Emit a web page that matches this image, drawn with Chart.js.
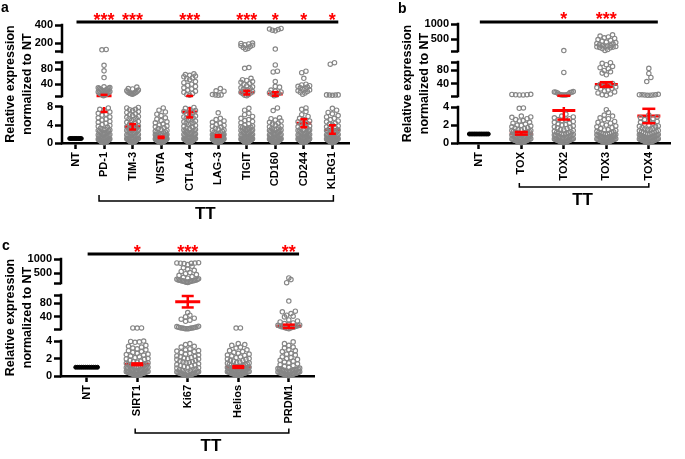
<!DOCTYPE html>
<html>
<head>
<meta charset="utf-8">
<script src="https://cdn.jsdelivr.net/npm/chart.js@4.4.1/dist/chart.umd.min.js"></script>
<style>
html, body { margin: 0; padding: 0; background: #fff; }
body { width: 685px; height: 459px; position: relative; overflow: hidden; }
canvas { position: absolute; }
</style>
</head>
<body>
<canvas id="chartA" width="360" height="232" style="left:0;top:0"></canvas>
<canvas id="chartB" width="288" height="232" style="left:397px;top:0"></canvas>
<canvas id="chartC" width="330" height="223" style="left:0;top:236px"></canvas>
<script>
// ---- panel a ----
const catsA = ['NT', 'PD-1', 'TIM-3', 'VISTA', 'CTLA-4', 'LAG-3', 'TIGIT', 'CD160', 'CD244', 'KLRG1'];
const starsA = ['', '***', '***', '', '***', '', '***', '*', '*', '*'];
const meansA = [null, 9, 3.6, 1.25, 6.9, 1.55, 17, 13.5, 4.4, 3.0];
const semsA = [0, 2.1, 0.6, 0.15, 1.2, 0.2, 5, 5, 0.9, 0.95];
const rangesA = [[0, 8], [8, 100], [100, 400]];
const ticksA = [[0, 4, 8], [40, 80], [200, 400]];

const ntA = [1, 1, 1, 1, 1, 1, 1, 1, 1, 1];
const pd1 = [128, 125, 91, 76, 58, 33, 31, 30, 29, 28, 27, 26, 25, 24, 23, 22, 21, 20, 19, 18, 17, 16, 15, 14, 13, 12, 11, 10, 9,
  7.8, 7.5, 7.3, 6.9, 6.6, 6.4, 6.2, 5.8, 5.6, 5.3, 5.1, 4.8, 4.6, 4.4, 4.1, 3.9, 3.7, 3.5, 3.3, 3.1, 2.9, 2.8, 2.6, 2.4, 2.3, 2.1,
  1.9, 1.8, 1.6, 1.5, 1.4, 1.3, 1.2, 1.1, 0.9, 0.8, 0.7, 0.6, 0.5, 0.4, 0.35, 0.3, 0.25, 0.2, 0.15, 0.1, 0.05,
  0.12, 0.22, 0.32, 0.42, 0.55, 0.65, 0.75, 0.85, 1.0, 1.15, 1.25, 1.45, 1.7, 2.0, 2.2, 2.5, 2.7, 3.0];
const tim3 = [32, 28, 27, 24, 22, 21, 19, 18, 17, 16, 15, 15, 14, 13,
  7.9, 7.8, 7.5, 7.4, 7.2, 7.0, 6.8, 6.5, 6.3, 6.1, 5.9, 5.7, 5.5, 5.4, 5.2, 5.0, 4.8, 4.6, 4.4, 4.2, 4.0, 3.8, 3.6, 3.4, 3.2, 3.0,
  2.8, 2.6, 2.4, 2.2, 2.0, 1.8, 1.6, 1.5, 1.4, 1.2, 1.1, 1.0, 0.9, 0.8, 0.7, 0.55, 0.5, 0.4, 0.35, 0.3, 0.2, 0.15, 0.1,
  0.12, 0.25, 0.45, 0.6, 0.75, 0.85, 0.95, 1.05, 1.3, 1.45, 1.7, 1.9, 2.1, 2.3, 2.5, 2.7, 2.9, 3.1];
const vista = [7.8, 7.3, 6.9, 6.4, 6.1, 5.6, 5.3, 5.0, 4.7, 4.5, 4.2, 4.0, 3.8, 3.6, 3.4, 3.2, 3.0, 2.8, 2.6, 2.5, 2.4, 2.3, 2.2,
  2.0, 1.9, 1.8, 1.7, 1.6, 1.5, 1.4, 1.3, 1.2, 1.1, 1.0, 0.9, 0.8, 0.7, 0.7, 0.6, 0.5, 0.5, 0.45, 0.4, 0.35, 0.3, 0.25, 0.2, 0.15, 0.1, 0.05,
  0.12, 0.22, 0.32, 0.42, 0.55, 0.62, 0.75, 0.85, 0.95, 1.05, 1.15, 1.25, 1.35, 1.45, 1.65, 1.85, 2.1];
const ctla4 = [68, 66, 64, 62, 60, 57, 55, 52, 47, 44, 40, 37, 34, 30, 27, 24, 21, 18, 15, 12, 10,
  7.9, 7.7, 7.5, 7.2, 7.0, 6.8, 6.5, 6.3, 6.0, 5.8, 5.6, 5.5, 5.3, 5.1, 4.9, 4.7, 4.5, 4.4, 4.3, 4.1, 3.9, 3.7, 3.5, 3.3, 3.1,
  2.9, 2.7, 2.5, 2.3, 2.1, 2.0, 1.9, 1.7, 1.5, 1.3, 1.2, 1.1, 0.9, 0.8, 0.7, 0.65, 0.6, 0.5, 0.4, 0.35, 0.3, 0.2, 0.1,
  0.15, 0.25, 0.45, 0.55, 0.75, 0.85, 0.95, 1.0, 1.15, 1.25, 1.4, 1.6, 1.8, 2.2, 2.4, 2.6, 2.8, 3.0];
const lag3 = [28, 22, 21, 12, 11, 11, 10,
  6.7, 5.5, 5.2, 4.9, 4.6, 4.4, 4.1, 3.9, 3.7, 3.5, 3.3, 3.1, 2.9, 2.8, 2.6, 2.4, 2.3, 2.1, 2.0, 1.9, 1.8, 1.7, 1.6, 1.5, 1.4,
  1.3, 1.2, 1.1, 1.0, 1.0, 0.9, 0.8, 0.7, 0.6, 0.6, 0.5, 0.45, 0.4, 0.35, 0.3, 0.25, 0.2, 0.15, 0.1, 0.05,
  0.12, 0.22, 0.32, 0.42, 0.55, 0.65, 0.75, 0.85, 0.95, 1.05, 1.15, 1.25, 1.45, 1.65, 1.85, 2.2];
const tigit = [200, 195, 190, 180, 175, 170, 160, 150, 140, 130,
  85, 83, 56, 52, 50, 47, 45, 42, 40, 36, 33, 30, 28, 26, 24, 22, 20, 18, 16, 14, 12, 10, 9,
  7.7, 7.3, 6.6, 6.3, 5.9, 5.5, 5.2, 5.0, 4.8, 4.5, 4.3, 4.0, 3.8, 3.6, 3.5, 3.4, 3.2, 3.0, 2.8, 2.6, 2.5, 2.4, 2.2, 2.0,
  1.9, 1.7, 1.6, 1.5, 1.4, 1.2, 1.1, 1.0, 0.9, 0.8, 0.75, 0.7, 0.6, 0.5, 0.45, 0.4, 0.3, 0.25, 0.2, 0.15, 0.1, 0.05,
  0.12, 0.35, 0.55, 0.65, 0.85, 0.95, 1.05, 1.3, 1.45, 1.8, 2.1, 2.3, 2.7, 2.9, 3.1, 3.3];
const cd160 = [362, 355, 350, 342, 335, 133,
  92, 75, 73, 47, 34, 32, 24, 21, 19, 17, 15, 13, 11, 9,
  7.8, 7.2, 5.6, 5.4, 5.1, 4.9, 4.6, 4.4, 4.2, 4.0, 3.8, 3.6, 3.4, 3.2, 3.0, 2.8, 2.7, 2.6, 2.4, 2.2, 2.0, 1.9, 1.8, 1.7,
  1.5, 1.4, 1.2, 1.1, 1.0, 0.9, 0.8, 0.7, 0.65, 0.6, 0.5, 0.4, 0.3, 0.25, 0.2, 0.15, 0.1, 0.05,
  0.12, 0.22, 0.35, 0.45, 0.55, 0.75, 0.85, 0.95, 1.05, 1.15, 1.3, 1.6, 2.1, 2.3, 2.5, 2.9, 3.1];
const cd244 = [75, 71, 56, 40, 38, 36, 34, 32, 30, 28, 26, 24, 22, 20, 18, 16, 13,
  7.8, 7.5, 7.0, 6.3, 5.9, 5.5, 5.2, 4.9, 4.7, 4.4, 4.2, 4.0, 3.8, 3.6, 3.4, 3.2, 3.0, 2.8, 2.6, 2.5, 2.4, 2.2, 2.0, 1.8,
  1.6, 1.5, 1.4, 1.3, 1.2, 1.1, 1.0, 0.9, 0.8, 0.7, 0.6, 0.55, 0.5, 0.4, 0.3, 0.2, 0.15, 0.1, 0.05,
  0.12, 0.25, 0.35, 0.45, 0.65, 0.75, 0.85, 0.95, 1.05, 1.15, 1.35, 1.7, 1.9, 2.1, 2.3, 2.7, 2.9];
const klrg1 = [98, 94, 11, 11, 10.5, 10.5, 10,
  7.7, 7.3, 6.8, 6.5, 6.1, 5.8, 5.5, 5.2, 4.9, 4.7, 4.4, 4.2, 4.0, 3.8, 3.6, 3.4, 3.2, 3.0, 2.8, 2.6, 2.5, 2.4, 2.2, 2.0,
  1.8, 1.6, 1.5, 1.4, 1.3, 1.2, 1.1, 1.0, 0.9, 0.8, 0.7, 0.6, 0.55, 0.5, 0.4, 0.3, 0.2, 0.15, 0.1, 0.05,
  0.12, 0.25, 0.35, 0.45, 0.65, 0.75, 0.85, 0.95, 1.05, 1.15, 1.35, 1.7, 1.9, 2.1, 2.3, 2.7, 2.9];

// ---- panel b ----
const catsB = ['NT', 'TOX', 'TOX2', 'TOX3', 'TOX4'];
const starsB = ['', '', '*', '***', ''];
const meansB = [null, 1.08, 3.6, 38, 3.0];
const semsB = [0, 0.15, 1.0, 7, 0.8];
const rangesB = [[0, 4], [4, 105], [100, 1000]];
const ticksB = [[0, 2, 4], [40, 80], [500, 1000]];

const ntB = [1, 1, 1, 1, 1, 1, 1, 1, 1, 1, 1, 1];
const tox = [9, 8.5, 8, 7.5, 7, 7,
  3.9, 3.85, 3.0, 2.9, 2.85, 2.7, 2.6, 2.5, 2.45, 2.3, 2.2, 2.1, 2.0, 1.95, 1.9, 1.8, 1.7, 1.65, 1.6, 1.5, 1.45, 1.4, 1.3,
  1.25, 1.2, 1.1, 1.05, 1.0, 0.95, 0.9, 0.85, 0.8, 0.75, 0.7, 0.65, 0.6, 0.55, 0.5, 0.45, 0.4, 0.35, 0.3, 0.25, 0.2, 0.15,
  0.1, 0.05, 0.02, 1.15, 0.72, 0.42, 0.22, 0.62, 0.33, 0.12,
  0.08, 0.18, 0.28, 0.38, 0.48, 0.58, 0.68, 0.78, 0.88, 0.98, 1.08, 1.18, 1.28, 1.38];
const tox2 = [115, 74, 17, 16, 15, 15, 14, 13, 10, 9, 8, 8, 7, 7, 7,
  3.2, 3.0, 2.9, 2.8, 2.7, 2.6, 2.55, 2.5, 2.4, 2.3, 2.2, 2.1, 2.05, 2.0, 1.9, 1.8, 1.75, 1.7, 1.6, 1.5, 1.45, 1.4, 1.3,
  1.2, 1.15, 1.1, 1.0, 0.95, 0.9, 0.85, 0.8, 0.7, 0.65, 0.6, 0.55, 0.5, 0.45, 0.4, 0.35, 0.3, 0.25, 0.2, 0.15, 0.1, 0.05,
  0.02, 1.25, 0.75, 0.38, 0.18, 0.68, 0.28,
  0.08, 0.12, 0.22, 0.32, 0.42, 0.48, 0.58, 0.72, 0.82, 0.88, 0.98, 1.05];
const tox3 = [640, 600, 570, 540, 520, 480, 460, 430, 400, 380, 350, 330, 310, 290, 280, 270, 260, 250, 240, 230, 220, 210,
  180, 150, 120,
  103, 101, 97, 92, 88, 85, 80, 76, 72, 67, 41, 38, 35, 33, 31, 29, 27, 25, 22, 19, 16, 13, 10, 8, 6,
  3.7, 3.4, 3.1, 3.0, 2.8, 2.7, 2.6, 2.4, 2.3, 2.2, 2.1, 2.0, 1.9, 1.8, 1.7, 1.6, 1.5, 1.45, 1.4, 1.3, 1.25, 1.2, 1.1,
  1.05, 1.0, 0.95, 0.9, 0.85, 0.8, 0.75, 0.7, 0.65, 0.6, 0.55, 0.5, 0.45, 0.4, 0.35, 0.3, 0.25, 0.2, 0.15, 0.1, 0.05, 0.02,
  0.88, 0.62, 0.42, 0.22, 0.12, 1.15, 0.72, 0.32,
  0.08, 0.18, 0.28, 0.38, 0.48, 0.58, 0.68, 0.78, 0.92, 0.98, 1.08];
const tox4 = [86, 71, 59, 47, 9, 8, 8, 7.5, 7, 7, 6.5, 6,
  3.1, 2.9, 2.8, 2.7, 2.6, 2.5, 2.4, 2.3, 2.2, 2.1, 2.0, 1.9, 1.85, 1.8, 1.7, 1.6, 1.55, 1.5, 1.4, 1.35, 1.3, 1.2, 1.15,
  1.1, 1.0, 0.95, 0.9, 0.85, 0.8, 0.75, 0.7, 0.65, 0.6, 0.55, 0.5, 0.45, 0.4, 0.35, 0.3, 0.25, 0.2, 0.15, 0.1, 0.05, 0.02,
  1.05, 0.72, 0.48, 0.28, 0.12, 0.92, 0.62,
  0.08, 0.18, 0.22, 0.32, 0.38, 0.42, 0.52, 0.58, 0.68, 0.78, 0.82, 0.88, 0.98, 1.25, 1.45];

// ---- panel c ----
const catsC = ['NT', 'SIRT1', 'Ki67', 'Helios', 'PRDM1'];
const starsC = ['', '*', '***', '', '**'];
const meansC = [null, 1.34, 85, 1.03, 12];
const semsC = [0, 0.1, 17, 0.1, 5];
const rangesC = [[0, 4], [4, 105], [150, 1000]];
const ticksC = [[0, 2, 4], [40, 80], [500, 1000]];

const ntC = [1, 1, 1, 1, 1, 1, 1, 1, 1, 1, 1, 1];
const sirt1 = [7, 7, 6.8,
  4.0, 3.95, 3.9, 3.85, 3.5, 3.4, 3.3, 3.2, 3.1, 3.0, 2.9, 2.8, 2.7, 2.6, 2.5, 2.45, 2.4, 2.3, 2.2, 2.1, 2.0, 1.95, 1.9,
  1.8, 1.7, 1.65, 1.6, 1.5, 1.45, 1.4, 1.35, 1.3, 1.25, 1.2, 1.1, 1.05, 1.0, 0.95, 0.9, 0.85, 0.8, 0.7, 0.65, 0.6, 0.5,
  0.45, 0.4, 0.35, 0.3, 0.2, 0.15, 0.1, 0.05, 1.15, 0.75, 0.55, 0.25,
  0.08, 0.12, 0.18, 0.22, 0.28, 0.32, 0.38, 0.42, 0.48, 0.52, 0.58, 0.62, 0.68, 0.72, 0.78, 0.82, 0.88, 0.92, 1.08, 1.22];
const ki67 = [870, 860, 855, 850, 845, 840, 800, 740, 690, 640, 600, 560, 520, 480, 450, 420, 380, 350, 320, 300, 280, 270,
  260, 255, 250, 240, 235, 230, 225, 220, 210, 200, 195, 190, 180, 170,
  53, 45, 40, 36, 33, 30, 27, 12, 11, 10, 9, 9, 8, 8, 7, 7, 6, 6, 5, 5, 5,
  3.7, 3.6, 3.4, 3.3, 3.1, 3.0, 2.9, 2.85, 2.8, 2.7, 2.6, 2.5, 2.4, 2.3, 2.25, 2.2, 2.1, 2.0, 1.95, 1.9, 1.8, 1.7, 1.6,
  1.55, 1.5, 1.4, 1.3, 1.25, 1.2, 1.1, 1.0, 0.95, 0.9, 0.8, 0.75, 0.7, 0.6, 0.55, 0.5, 0.45, 0.4, 0.35, 0.3, 0.25, 0.2,
  0.15, 0.1, 0.05, 0.02, 0.65, 0.38, 0.18, 1.15, 1.65, 2.05,
  0.08, 0.12, 0.22, 0.28, 0.32, 0.42, 0.48];
const helios = [7, 6.8,
  3.7, 3.6, 3.5, 3.3, 3.2, 3.0, 2.9, 2.8, 2.7, 2.6, 2.5, 2.4, 2.35, 2.3, 2.2, 2.1, 2.0, 1.95, 1.9, 1.8, 1.75, 1.7, 1.6,
  1.55, 1.5, 1.45, 1.4, 1.35, 1.3, 1.2, 1.15, 1.1, 1.05, 1.0, 0.95, 0.9, 0.85, 0.8, 0.75, 0.7, 0.65, 0.6, 0.55, 0.5, 0.45,
  0.4, 0.35, 0.3, 0.25, 0.2, 0.15, 0.1, 0.05, 0.92, 0.72, 0.42, 1.25,
  0.08, 0.12, 0.18, 0.22, 0.28, 0.32, 0.38, 0.48, 0.52, 0.58, 0.62, 0.68, 0.78, 0.82, 0.88, 0.98, 1.08, 1.12];
const prdm1 = [330, 270, 160,
  87, 57, 55, 50, 45, 42, 40, 31, 28, 25, 22, 20, 18, 16, 15, 14, 13, 12, 11, 10, 10, 9, 8, 7, 6, 5,
  3.9, 3.7, 3.5, 3.3, 3.2, 3.0, 2.9, 2.8, 2.6, 2.5, 2.4, 2.2, 2.1, 2.0, 1.9, 1.8, 1.7, 1.6, 1.5, 1.4, 1.3, 1.2, 1.1, 1.0,
  0.9, 0.85, 0.8, 0.7, 0.65, 0.6, 0.55, 0.5, 0.45, 0.4, 0.35, 0.3, 0.25, 0.2, 0.15, 0.1, 0.05, 0.02, 0.75, 0.42, 0.22, 0.12,
  0.08, 0.18, 0.28, 0.32, 0.38, 0.48, 0.52, 0.58, 0.62, 0.68, 0.72, 0.78, 0.82];

const RED = '#ff0000';
const GREY = '#868686';
Chart.defaults.font.family = '"Liberation Sans", Arial, sans-serif';
Chart.defaults.font.weight = 'bold';
Chart.defaults.color = '#000';

// broken y axis: each segment gets a fixed height, with a gap in between
function makeAxis(ranges, ticks, sizes, gaps) {
  let pos = 0;
  const segs = ranges.map((r, k) => {
    const s = { min: r[0], max: r[1], start: pos, size: sizes[k], ticks: ticks[k] };
    pos += sizes[k] + (gaps[k] || 0);
    return s;
  });
  return { segs, total: pos };
}
function inSeg(s, v) { return s.start + (v - s.min) / (s.max - s.min) * s.size; }
function toVirtual(ax, v) {
  for (const s of ax.segs) if (v <= s.max) return inSeg(s, Math.max(v, s.min));
  return inSeg(ax.segs[ax.segs.length - 1], v);
}

const AXES = {
  a: makeAxis(rangesA, ticksA, [36, 34, 27], [11, 10]),
  b: makeAxis(rangesB, ticksB, [36, 34, 27], [11, 11]),
  c: makeAxis(rangesC, ticksC, [35, 34, 24], [12, 12])
};

class BrokenScale extends Chart.LinearScale {
  static id = 'broken';
  static defaults = {};
  determineDataLimits() {
    this.ax = AXES[this.options.axisKey];
    this.min = 0;
    this.max = this.ax.total;
  }
  buildTicks() {
    const out = [];
    this.ax.segs.forEach(s => {
      const marks = [{ value: s.start, lbl: '' }, { value: s.start + s.size, lbl: '' }];
      s.ticks.forEach(t => {
        const p = inSeg(s, t);
        const m = marks.find(q => Math.abs(q.value - p) < 0.5);
        if (m) m.lbl = String(t); else marks.push({ value: p, lbl: String(t) });
      });
      out.push(...marks);
    });
    return out.sort((a, b) => a.value - b.value);
  }
  generateTickLabels(ticks) { ticks.forEach(t => { t.label = t.lbl; }); }
  vpx(p) { return super.getPixelForValue(p); }
  getPixelForValue(v) { return this.vpx(toVirtual(this.ax, v)); }
  getPixelForTick(i) { return this.vpx(this.ticks[i].value); }
  segPx(k, v) { return this.vpx(inSeg(this.ax.segs[k], v)); }
}
Chart.register(BrokenScale);

// column scatter: rows of points spread sideways around the category
function swarm(vals, idx, ax, ppu, halfW) {
  const items = vals.map(v => ({ v, p: toVirtual(ax, v) })).sort((a, b) => a.p - b.p);
  const rows = [];
  items.forEach(it => {
    const row = rows[rows.length - 1];
    if (row && it.p - row[0].p < 4.2) row.push(it); else rows.push([it]);
  });
  const pts = [];
  rows.forEach(row => {
    const n = row.length;
    const step = n > 1 ? Math.min(4.4, 2 * halfW / (n - 1)) : 0;
    const slots = [...Array(n).keys()].map(j => j - (n - 1) / 2).sort((a, b) => Math.abs(a) - Math.abs(b));
    row.forEach((it, j) => pts.push({ x: idx + slots[j] * step / ppu, y: it.v }));
  });
  return pts;
}

const panels = [
  { key: 'a', el: 'chartA', letter: 'a', cats: catsA, stars: starsA, means: meansA, sems: semsA,
    series: [ntA, pd1, tim3, vista, ctla4, lag3, tigit, cd160, cd244, klrg1],
    xMin: -0.473, xMax: 9.6, plotW: 298, yW: 62, xH: 89, padTop: 25, padRight: 0,
    halfW: 6, meanHalf: 7.5, capHalf: 3.5, sigY: 22, starY: 26, brX: [-5, 1], brY: 201, brH: 6,
    ttX: 4.55, ttY: 214, letterX: 1, letterY: 12 },
  { key: 'b', el: 'chartB', letter: 'b', cats: catsB, stars: starsB, means: meansB, sems: semsB,
    series: [ntB, tox, tox2, tox3, tox4],
    xMin: -0.49, xMax: 4.51, plotW: 225, yW: 61, xH: 89, padTop: 24, padRight: 2,
    halfW: 10, meanHalf: 11.5, capHalf: 6.5, sigY: 22, starY: 25, brX: [-2, 0], brY: 187, brH: 4,
    ttX: 2.44, ttY: 200.5, letterX: 1, letterY: 13 },
  { key: 'c', el: 'chartC', letter: 'c', cats: catsC, stars: starsC, means: meansC, sems: semsC,
    series: [ntC, sirt1, ki67, helios, prdm1],
    xMin: -0.507, xMax: 4.508, plotW: 257, yW: 61, xH: 83, padTop: 23, padRight: 12,
    halfW: 11, meanHalf: 12.5, capHalf: 6, sigY: 18, starY: 22, brX: [-2, 0], brY: 197, brH: 4.5,
    ttX: 2.46, ttY: 210.5, letterX: 2, letterY: 14 }
];

function buildDatasets(P) {
  const ax = AXES[P.key];
  const ppu = P.plotW / (P.xMax - P.xMin);
  const sets = P.series.map((vals, i) => ({
    data: swarm(vals, i, ax, ppu, P.halfW),
    pointRadius: i === 0 ? 2 : 2.2,
    pointBorderWidth: i === 0 ? 1 : 1.15,
    pointBorderColor: i === 0 ? '#000' : GREY,
    pointBackgroundColor: i === 0 ? '#000' : 'rgba(0,0,0,0)'
  }));
  sets.push({
    data: P.means.map((m, i) => ({ x: i, y: m })).filter(d => d.y != null),
    pointStyle: 'line', pointRadius: P.meanHalf, pointBorderWidth: 3, pointBorderColor: RED
  });
  return sets;
}

function decor(P) {
  return {
    id: 'decor' + P.key,
    afterDraw(chart) {
      const { ctx, chartArea } = chart;
      const x = chart.scales.x, y = chart.scales.y;
      const ax = AXES[P.key];
      const ppu = P.plotW / (P.xMax - P.xMin);
      ctx.save();
      // axis pieces
      ctx.strokeStyle = '#000';
      ctx.lineWidth = 2.5;
      ax.segs.forEach(s => {
        ctx.beginPath();
        ctx.moveTo(chartArea.left, y.vpx(s.start) + 1.25);
        ctx.lineTo(chartArea.left, y.vpx(s.start + s.size) - 1.25);
        ctx.stroke();
      });
      // mean +/- SEM, cut at the breaks
      ctx.strokeStyle = RED;
      P.means.forEach((m, i) => {
        const sem = P.sems[i];
        if (m == null || !sem) return;
        const lo = m - sem, hi = m + sem, cx = x.getPixelForValue(i);
        ax.segs.forEach((g, k) => {
          const a = Math.max(lo, g.min), b = Math.min(hi, g.max);
          if (a >= b) return;
          ctx.beginPath();
          ctx.moveTo(cx, y.segPx(k, a));
          ctx.lineTo(cx, y.segPx(k, b));
          ctx.stroke();
          [lo, hi].forEach(e => {
            if (e < g.min || e > g.max) return;
            const py = y.segPx(k, e);
            ctx.beginPath();
            ctx.moveTo(cx - P.capHalf, py);
            ctx.lineTo(cx + P.capHalf, py);
            ctx.stroke();
          });
        });
      });
      // significance line and stars
      const last = P.cats.length - 1;
      ctx.strokeStyle = '#000';
      ctx.lineWidth = 3;
      ctx.beginPath();
      ctx.moveTo(x.getPixelForValue(0) + 1, P.sigY);
      ctx.lineTo(x.getPixelForValue(last) + 0.2 * ppu, P.sigY);
      ctx.stroke();
      ctx.fillStyle = RED;
      ctx.font = 'bold 18px "Liberation Sans", Arial, sans-serif';
      ctx.textAlign = 'center';
      ctx.textBaseline = 'alphabetic';
      P.stars.forEach((s, i) => { if (s) ctx.fillText(s, x.getPixelForValue(i), P.starY); });
      // TT bracket
      const bx1 = x.getPixelForValue(1) + P.brX[0], bx2 = x.getPixelForValue(last) + P.brX[1];
      ctx.lineWidth = 1.5;
      ctx.beginPath();
      ctx.moveTo(bx1, P.brY - P.brH);
      ctx.lineTo(bx1, P.brY);
      ctx.lineTo(bx2, P.brY);
      ctx.lineTo(bx2, P.brY - P.brH);
      ctx.stroke();
      ctx.fillStyle = '#000';
      ctx.font = 'bold 17px "Liberation Sans", Arial, sans-serif';
      ctx.textAlign = 'center';
      ctx.textBaseline = 'middle';
      ctx.fillText('TT', x.getPixelForValue(P.ttX), P.ttY);
      // panel letter
      ctx.font = 'bold 14px "Liberation Sans", Arial, sans-serif';
      ctx.textAlign = 'left';
      ctx.textBaseline = 'alphabetic';
      ctx.fillText(P.letter, P.letterX, P.letterY);
      ctx.restore();
    }
  };
}

panels.forEach(P => {
  new Chart(document.getElementById(P.el), {
    type: 'scatter',
    data: { datasets: buildDatasets(P) },
    options: {
      responsive: false,
      animation: false,
      events: [],
      layout: { padding: { top: P.padTop, right: P.padRight, left: 0, bottom: 0 } },
      plugins: { legend: { display: false }, tooltip: { enabled: false } },
      scales: {
        x: {
          type: 'linear', min: P.xMin, max: P.xMax,
          afterBuildTicks: s => { s.ticks = P.cats.map((c, i) => ({ value: i })); },
          afterFit: s => { s.height = P.xH; },
          ticks: {
            callback: v => P.cats[v], minRotation: 90, maxRotation: 90, autoSkip: false, padding: 3,
            font: { size: 11, weight: 'bold' }, color: '#000'
          },
          grid: { drawOnChartArea: false, tickLength: 6, tickWidth: 2.5, tickColor: '#000' },
          border: { display: true, width: 2.5, color: '#000' }
        },
        y: {
          type: 'broken', axisKey: P.key,
          afterFit: s => { s.width = P.yW; },
          ticks: { autoSkip: false, padding: 2, font: { size: 11, weight: 'bold' }, color: '#000' },
          grid: { drawOnChartArea: false, tickLength: 7, tickWidth: 2.5, tickColor: '#000' },
          border: { display: false },
          title: {
            display: true, text: ['Relative expression', 'normalized to NT'], color: '#000',
            font: { size: 12.5, weight: 'bold', lineHeight: 1.36 }, padding: { top: 2, bottom: 0 }
          }
        }
      }
    },
    plugins: [decor(P)]
  });
});
</script>
</body>
</html>
